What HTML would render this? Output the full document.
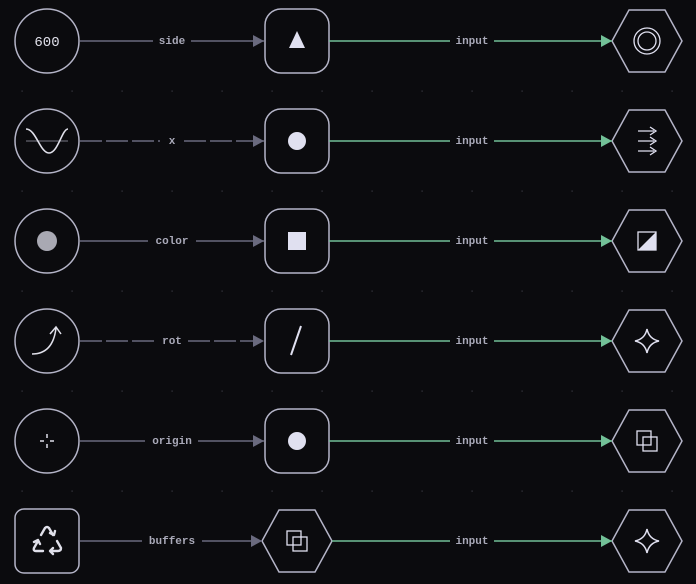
<!DOCTYPE html>
<html><head><style>
html,body{margin:0;padding:0;background:#0b0b0e;}
svg{display:block}
text{font-family:"Liberation Mono",monospace;font-size:11px;font-weight:bold;fill:#a9a9b8;text-anchor:middle;dominant-baseline:central}
</style></head><body>
<svg width="696" height="584" viewBox="0 0 696 584" xmlns="http://www.w3.org/2000/svg">
<defs>
<pattern id="g" x="0" y="0" width="50" height="100" patternUnits="userSpaceOnUse">
<rect x="21.5" y="90.5" width="1.2" height="1.2" fill="#3a3a44"/>
</pattern>
<marker id="ag" markerWidth="12" markerHeight="12" refX="11" refY="6" orient="auto" markerUnits="userSpaceOnUse"><path d="M0,0L11,6L0,12z" fill="#6a6a7e"/></marker>
<marker id="agr" markerWidth="12" markerHeight="12" refX="11" refY="6" orient="auto" markerUnits="userSpaceOnUse"><path d="M0,0L11,6L0,12z" fill="#72c097"/></marker>
</defs>
<rect x="0" y="0" width="696" height="584" fill="url(#g)"/>
<g stroke="#b5b5c8" stroke-width="1.5" fill="none">
<circle cx="47" cy="41" r="32"/>
<circle cx="47" cy="141" r="32"/>
<circle cx="47" cy="241" r="32"/>
<circle cx="47" cy="341" r="32"/>
<circle cx="47" cy="441" r="32"/>
<rect x="15" y="509" width="64" height="64" rx="9"/>
<rect x="265" y="9" width="64" height="64" rx="16"/>
<rect x="265" y="109" width="64" height="64" rx="16"/>
<rect x="265" y="209" width="64" height="64" rx="16"/>
<rect x="265" y="309" width="64" height="64" rx="16"/>
<rect x="265" y="409" width="64" height="64" rx="16"/>
<path d="M262,541L279,510H315L332,541L315,572H279Z"/>
<path d="M612,41L629,10H665L682,41L665,72H629Z"/>
<path d="M612,141L629,110H665L682,141L665,172H629Z"/>
<path d="M612,241L629,210H665L682,241L665,272H629Z"/>
<path d="M612,341L629,310H665L682,341L665,372H629Z"/>
<path d="M612,441L629,410H665L682,441L665,472H629Z"/>
<path d="M612,541L629,510H665L682,541L665,572H629Z"/>
</g>
<g stroke="#6a6a7e" stroke-width="1.5" fill="none">
<path d="M80,41H153M191,41H264" marker-end="url(#ag)"/>
<path d="M80,141H160M184,141H264" stroke-dasharray="22,4" marker-end="url(#ag)"/>
<path d="M80,241H148M196,241H264" marker-end="url(#ag)"/>
<path d="M80,341H154M188,341H264" stroke-dasharray="22,4" marker-end="url(#ag)"/>
<path d="M80,441H145M198,441H264" marker-end="url(#ag)"/>
<path d="M80,541H142M202,541H262" marker-end="url(#ag)"/>
</g>
<g stroke="#72c097" stroke-width="1.5" fill="none">
<path d="M329,41H450M494,41H612" marker-end="url(#agr)"/>
<path d="M329,141H450M494,141H612" marker-end="url(#agr)"/>
<path d="M329,241H450M494,241H612" marker-end="url(#agr)"/>
<path d="M329,341H450M494,341H612" marker-end="url(#agr)"/>
<path d="M329,441H450M494,441H612" marker-end="url(#agr)"/>
<path d="M332,541H450M494,541H612" marker-end="url(#agr)"/>
</g>
<text x="172" y="42">side</text>
<text x="172" y="142">x</text>
<text x="172" y="242">color</text>
<text x="172" y="342">rot</text>
<text x="172" y="442">origin</text>
<text x="172" y="542">buffers</text>
<g><text x="472" y="42">input</text><text x="472" y="142">input</text><text x="472" y="242">input</text><text x="472" y="342">input</text><text x="472" y="442">input</text><text x="472" y="542">input</text></g>
<text x="47" y="43" style="font-size:14px;font-weight:normal;fill:#e0e0ea">600</text>
<line x1="26" y1="141" x2="68" y2="141" stroke="#55555f" stroke-width="1.5"/>
<path d="M26,129C36,129 40,153 49,153C58,153 62,129 68,129" stroke="#e0e0ea" stroke-width="1.6" fill="none"/>
<circle cx="47" cy="241" r="10" fill="#a9a9b3"/>
<path d="M32,354C46,354 54,345 56,328M50,334L56,327L61,334" stroke="#e0e0ea" stroke-width="1.5" fill="none"/>
<path d="M40,441H44M50,441H54M47,434V438M47,444V448" stroke="#e0e0ea" stroke-width="1.5"/>
<g stroke="#e0e0ea" stroke-width="2.4" fill="none" stroke-linecap="round" stroke-linejoin="round">
<path d="M41,535L45,528Q47,526 49,528L53,535"/>
<path d="M50,533L54,535L55,531"/>
<path d="M57,541L61,548Q61,551 58,551H51"/>
<path d="M53,548L50,551L53,554"/>
<path d="M43,551H36Q33,551 34,548L38,541"/>
<path d="M34,542L38,540L40,544"/>
</g>
<path d="M297,31L305,48H289Z" fill="#e0e0f0"/>
<circle cx="297" cy="141" r="9" fill="#e0e0f0"/>
<rect x="288" y="232" width="18" height="18" fill="#e0e0f0"/>
<line x1="301" y1="326" x2="291" y2="355" stroke="#e0e0f0" stroke-width="2"/>
<circle cx="297" cy="441" r="9" fill="#e0e0f0"/>
<g stroke="#e0e0f0" stroke-width="1.3" fill="none">
<rect x="287" y="531" width="14" height="14"/><rect x="293" y="537" width="14" height="14"/>
<circle cx="647" cy="41" r="13"/><circle cx="647" cy="41" r="9"/>
<path d="M638,131H654M638,141H654M638,151H654M650,127L656,131L650,135M650,137L656,141L650,145M650,147L656,151L650,155"/>
<rect x="638" y="232" width="18" height="18"/>
<rect x="637" y="431" width="14" height="14"/><rect x="643" y="437" width="14" height="14"/>
</g>
<path d="M656,232V250H638Z" fill="#e0e0f0"/>
<path d="M647,329Q649,339 659,341Q649,343 647,353Q645,343 635,341Q645,339 647,329Z" fill="none" stroke="#e0e0f0" stroke-width="1.5"/>
<path d="M647,529Q649,539 659,541Q649,543 647,553Q645,543 635,541Q645,539 647,529Z" fill="none" stroke="#e0e0f0" stroke-width="1.5"/>
</svg>
</body></html>
